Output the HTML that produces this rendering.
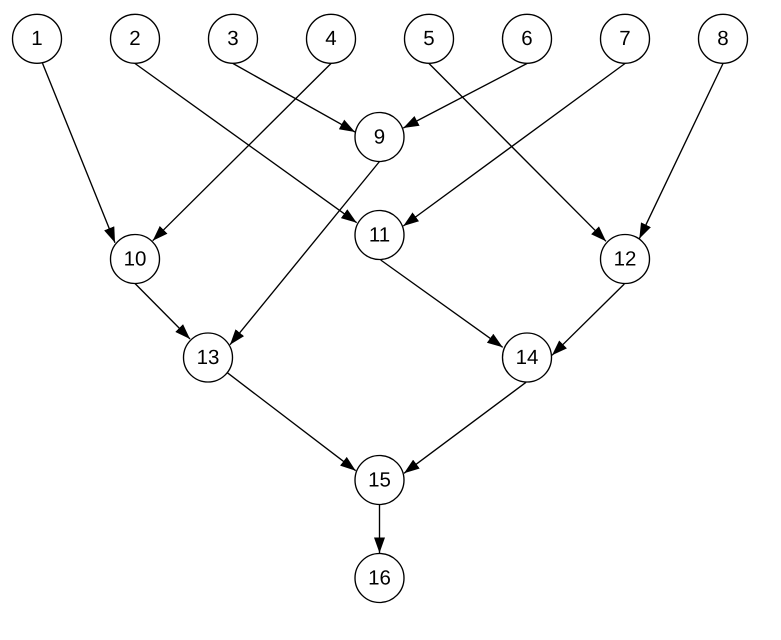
<!DOCTYPE html>
<html>
<head>
<meta charset="utf-8">
<style>
html,body{margin:0;padding:0;background:#fff;}
svg{display:block;}
text{font-family:"Liberation Sans",sans-serif;font-size:20.5px;text-anchor:middle;fill:#000;text-rendering:geometricPrecision;}
circle{fill:#fff;stroke:#000;stroke-width:1.36;}
line{stroke:#000;stroke-width:1.36;}
</style>
</head>
<body>
<svg width="781" height="640" viewBox="0 0 781 640" xmlns="http://www.w3.org/2000/svg">
<defs>
<marker id="a" markerUnits="userSpaceOnUse" markerWidth="18" markerHeight="13" refX="15.5" refY="6.5" orient="auto">
<polygon points="0,1 15.5,6.5 0,12" fill="#000"/>
</marker>
</defs>
<g>
<line x1="42.5" y1="63.3" x2="115" y2="242.7" marker-end="url(#a)"/>
<line x1="135" y1="63.5" x2="356.7" y2="222.7" marker-end="url(#a)"/>
<line x1="233" y1="63.5" x2="355" y2="132" marker-end="url(#a)"/>
<line x1="331" y1="63.5" x2="152.7" y2="240.7" marker-end="url(#a)"/>
<line x1="429" y1="63.5" x2="606" y2="241.3" marker-end="url(#a)"/>
<line x1="527" y1="63.5" x2="403.3" y2="128" marker-end="url(#a)"/>
<line x1="625" y1="63.5" x2="403.3" y2="226" marker-end="url(#a)"/>
<line x1="723" y1="63.5" x2="639.3" y2="238.7" marker-end="url(#a)"/>
<line x1="379.5" y1="161.5" x2="230" y2="344.7" marker-end="url(#a)"/>
<line x1="135" y1="283.5" x2="190" y2="339" marker-end="url(#a)"/>
<line x1="380.7" y1="260" x2="502.7" y2="347.3" marker-end="url(#a)"/>
<line x1="624.3" y1="284" x2="552" y2="355.3" marker-end="url(#a)"/>
<line x1="227.3" y1="372.7" x2="355.7" y2="470.7" marker-end="url(#a)"/>
<line x1="526" y1="382.3" x2="404" y2="473.3" marker-end="url(#a)"/>
<line x1="379.5" y1="504.5" x2="379.5" y2="553" marker-end="url(#a)"/>
</g>
<circle cx="37" cy="38.8" r="24.5"/><text x="37" y="45">1</text>
<circle cx="135" cy="38.8" r="24.5"/><text x="135" y="45">2</text>
<circle cx="233" cy="38.8" r="24.5"/><text x="233" y="45">3</text>
<circle cx="331" cy="38.8" r="24.5"/><text x="331" y="45">4</text>
<circle cx="429" cy="38.8" r="24.5"/><text x="429" y="45">5</text>
<circle cx="527" cy="38.8" r="24.5"/><text x="527" y="45">6</text>
<circle cx="625" cy="38.8" r="24.5"/><text x="625" y="45">7</text>
<circle cx="723" cy="38.8" r="24.5"/><text x="723" y="45">8</text>
<circle cx="379.5" cy="137" r="24.5"/><text x="379.5" y="143.5">9</text>
<circle cx="135" cy="259" r="24.5"/><text x="135" y="265.5">10</text>
<circle cx="379.5" cy="235" r="24.5"/><text x="379.5" y="241.5">11</text>
<circle cx="625" cy="259" r="24.5"/><text x="625" y="265.5">12</text>
<circle cx="208" cy="357.5" r="24.5"/><text x="208" y="364">13</text>
<circle cx="527" cy="357.5" r="24.5"/><text x="527" y="364">14</text>
<circle cx="379.5" cy="480" r="24.5"/><text x="379.5" y="486.5">15</text>
<circle cx="379.5" cy="578" r="24.5"/><text x="379.5" y="584.5">16</text>
</svg>
</body>
</html>
